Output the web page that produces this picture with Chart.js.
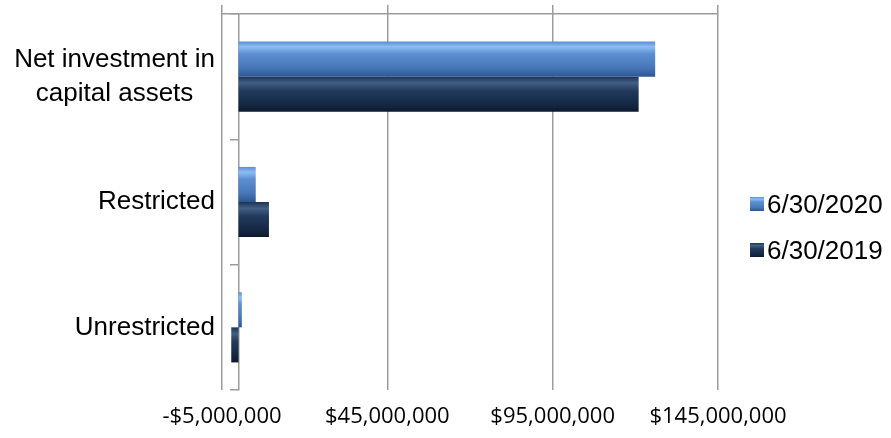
<!DOCTYPE html>
<html>
<head>
<meta charset="utf-8">
<script src="https://cdn.jsdelivr.net/npm/chart.js@4/dist/chart.umd.min.js"></script>
<style>
  html, body { margin: 0; padding: 0; background: #fff; }
  #wrap { position: relative; width: 891px; height: 438px; }
  #legend { position: absolute; left: 750px; top: 186px; font-family: "Liberation Sans", Arial, sans-serif; font-size: 26px; color: #000; }
  .legend-item { display: flex; align-items: center; height: 36px; margin-bottom: 10px; }
  .legend-box { width: 14px; height: 14px; margin-right: 3px; }
</style>
</head>
<body>
<div id="wrap">
  <canvas id="netChart" width="891" height="438"></canvas>
  <div id="legend"></div>
</div>
<script>
// ---------- Data ---------- //
// second line padded so it sits centred under the first (labels are right-aligned)
const categories = [['Net investment in', 'capital assets\u00a0\u00a0\u00a0'], 'Restricted', 'Unrestricted'];
const seriesLabels = ['6/30/2020', '6/30/2019'];
const values2020 = [126000000, 5200000, 1000000];
const values2019 = [121000000, 9200000, -2200000];
const tickValues = [-5000000, 45000000, 95000000, 145000000];

const GRID = '#9c9c9c';

// colour stops for the bevelled bars (top -> bottom)
const barStops = [
  [[0, '#5a8ed2'], [0.15, '#8dbdf2'], [0.35, '#5c8fd1'], [0.75, '#4777b8'], [1, '#2d5690']],
  [[0, '#1c3354'], [0.18, '#435f85'], [0.4, '#223a5d'], [0.8, '#142843'], [1, '#0b182d']]
];
const fallback = ['#4f81bd', '#1f3558'];

function money(v) {
  const s = '$' + Math.abs(v).toLocaleString('en-US');
  return v < 0 ? '-' + s : s;
}

function barFill(ctx) {
  const chart = ctx.chart;
  const area = chart.chartArea;
  const ds = ctx.datasetIndex;
  if (!area || ctx.type !== 'data') return fallback[ds];
  const yScale = chart.scales.y;
  const band = area.height / categories.length;
  const full = band * 0.56;
  const thick = full / 2;
  const center = yScale.getPixelForValue(ctx.dataIndex);
  const top = center - full / 2 + ds * thick;
  const g = chart.ctx.createLinearGradient(0, top, 0, top + thick);
  barStops[ds].forEach(s => g.addColorStop(s[0], s[1]));
  return g;
}

const chart = new Chart(document.getElementById('netChart'), {
  type: 'bar',
  data: {
    labels: categories,
    datasets: [
      { label: seriesLabels[0], data: values2020, backgroundColor: barFill, borderWidth: 0 },
      { label: seriesLabels[1], data: values2019, backgroundColor: barFill, borderWidth: 0 }
    ]
  },
  options: {
    indexAxis: 'y',
    responsive: false,
    animation: false,
    layout: { padding: { top: 5, right: 173, bottom: 0, left: 0 } },
    datasets: { bar: { categoryPercentage: 0.56, barPercentage: 1 } },
    plugins: { legend: { display: false }, tooltip: { enabled: false } },
    scales: {
      x: {
        position: 'bottom',
        min: -5000000,
        max: 145000000,
        afterBuildTicks: (scale) => { scale.ticks = tickValues.map(v => ({ value: v })); },
        afterFit: (scale) => { scale.height = 48; },
        ticks: {
          callback: (v) => money(v),
          color: '#000',
          padding: 14,
          maxRotation: 0,
          font: { family: '"Open Sans", sans-serif', size: 22, lineHeight: 1.2 }
        },
        grid: { color: GRID, lineWidth: 1.5, drawTicks: false },
        border: { display: false }
      },
      x2: {
        position: 'top',
        min: -5000000,
        max: 145000000,
        afterBuildTicks: (scale) => { scale.ticks = tickValues.map(v => ({ value: v })); },
        afterFit: (scale) => { scale.height = 9; },
        ticks: { display: false },
        grid: { drawOnChartArea: false, color: GRID, lineWidth: 1.5, tickLength: 9 },
        border: { display: true, color: GRID, width: 1.5 }
      },
      y: {
        position: 'left',
        afterFit: (scale) => {
          scale.width = 222;
          scale.paddingTop = 0;
          scale.paddingBottom = 0;
        },
        ticks: {
          color: '#000',
          padding: 7,
          font: { family: '"Liberation Sans", Arial, sans-serif', size: 26, lineHeight: 1.3 }
        },
        grid: { display: false, drawTicks: false },
        border: { display: false }
      },
      y2: {
        type: 'category',
        position: { x: 0 },
        offset: true,
        afterFit: (scale) => { scale.width = 0; scale.paddingTop = 0; scale.paddingBottom = 0; },
        ticks: { display: false },
        grid: { offset: true, drawOnChartArea: false, color: GRID, lineWidth: 1.5, tickLength: 8 },
        border: { display: true, color: GRID, width: 1.5 }
      }
    }
  }
});

// ---------- Legend ---------- //
const legend = document.getElementById('legend');
chart.data.datasets.forEach((ds, i) => {
  const item = document.createElement('div');
  item.className = 'legend-item';
  const stops = barStops[i].map(s => `${s[1]} ${s[0] * 100}%`).join(', ');
  item.innerHTML = `<span class="legend-box" style="background: linear-gradient(${stops})"></span><span>${ds.label}</span>`;
  legend.appendChild(item);
});
</script>
</body>
</html>
